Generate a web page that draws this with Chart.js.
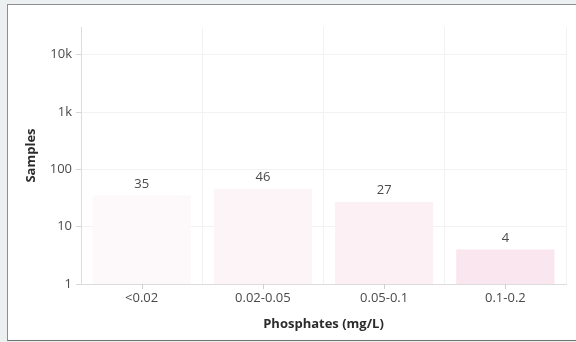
<!DOCTYPE html>
<html>
<head>
<meta charset="utf-8">
<script src="https://cdn.jsdelivr.net/npm/chart.js@4"></script>
<style>
  html, body { margin: 0; padding: 0; }
  body { width: 576px; height: 342px; background: #edf0f0; overflow: hidden; position: relative; }
  #quadro {
    position: absolute; left: 7px; top: 4px; width: 580px; height: 335px;
    background: #fff; border-top: 1px solid #8e9090; border-left: 1px solid #8e9090; border-bottom: 1px solid #6f7070;
  }
  #quadro canvas { display: block; }
</style>
</head>
<body>
<div id="quadro"><canvas id="graficoBarras" width="568" height="335"></canvas></div>
<script>
const categorias = ['<0.02', '0.02-0.05', '0.05-0.1', '0.1-0.2'];
const amostras = [35, 46, 27, 4];
const coresBarras = ['#fdf8f9', '#fdf4f7', '#fcf0f4', '#fae6ee'];
const ticksY = [1, 10, 100, 1000, 10000];
const rotulosY = ['1', '10', '100', '1k', '10k'];

const fonte = '"Open Sans", sans-serif';

// rótulos com o valor acima de cada barra
const rotulosValores = {
    id: 'rotulosValores',
    afterDatasetsDraw(chart) {
        const ctx = chart.ctx;
        const meta = chart.getDatasetMeta(0);
        ctx.save();
        ctx.font = '13px ' + fonte;
        ctx.fillStyle = '#4a4a4a';
        ctx.textAlign = 'center';
        ctx.textBaseline = 'middle';
        meta.data.forEach((barra, i) => {
            ctx.fillText(String(amostras[i]), barra.x, barra.y - 11.5);
        });
        ctx.restore();
    },
    afterDraw(chart) {
        // marcas do eixo x no centro de cada categoria
        const ctx = chart.ctx;
        const escalaX = chart.scales.x;
        ctx.save();
        ctx.strokeStyle = '#cfcfcf';
        ctx.lineWidth = 1;
        categorias.forEach((c, i) => {
            const x = Math.round(escalaX.getPixelForValue(i)) + 0.5;
            ctx.beginPath();
            ctx.moveTo(x, escalaX.top);
            ctx.lineTo(x, escalaX.top + 5);
            ctx.stroke();
        });
        ctx.restore();
    }
};

new Chart(document.getElementById('graficoBarras').getContext('2d'), {
    type: 'bar',
    data: {
        labels: categorias,
        datasets: [{
            data: amostras,
            backgroundColor: coresBarras,
            borderWidth: 0,
            barPercentage: 0.9,
            categoryPercentage: 0.9
        }]
    },
    options: {
        responsive: false,
        animation: false,
        layout: { padding: { top: 22, right: 10, left: 0, bottom: 0 } },
        plugins: {
            legend: { display: false },
            tooltip: { enabled: false }
        },
        scales: {
            x: {
                afterFit: s => { s.height = 56; },
                grid: { color: '#f2f2f2', offset: true, drawTicks: false },
                border: { color: '#dcdcdc' },
                ticks: { color: '#4a4a4a', font: { family: fonte, size: 13 }, padding: 6 },
                title: {
                    display: true,
                    text: 'Phosphates (mg/L)',
                    color: '#2b2b2b',
                    font: { family: fonte, size: 13, weight: 'bold' },
                    padding: { top: 0, bottom: 8 }
                }
            },
            y: {
                type: 'logarithmic',
                min: 1,
                max: 30500,
                afterFit: s => { s.width = 73; },
                afterBuildTicks: s => { s.ticks = ticksY.map(v => ({ value: v })); },
                grid: { color: '#f2f2f2', tickColor: '#d6d6d6', tickLength: 5 },
                border: { color: '#dcdcdc' },
                ticks: {
                    color: '#4a4a4a',
                    font: { family: fonte, size: 13 },
                    padding: 4,
                    callback: (v) => rotulosY[ticksY.indexOf(v)]
                },
                title: {
                    display: true,
                    text: 'Samples',
                    color: '#2b2b2b',
                    font: { family: fonte, size: 13, weight: 'bold' },
                    padding: { top: 15, bottom: 0 }
                }
            }
        }
    },
    plugins: [rotulosValores]
});
</script>
</body>
</html>
